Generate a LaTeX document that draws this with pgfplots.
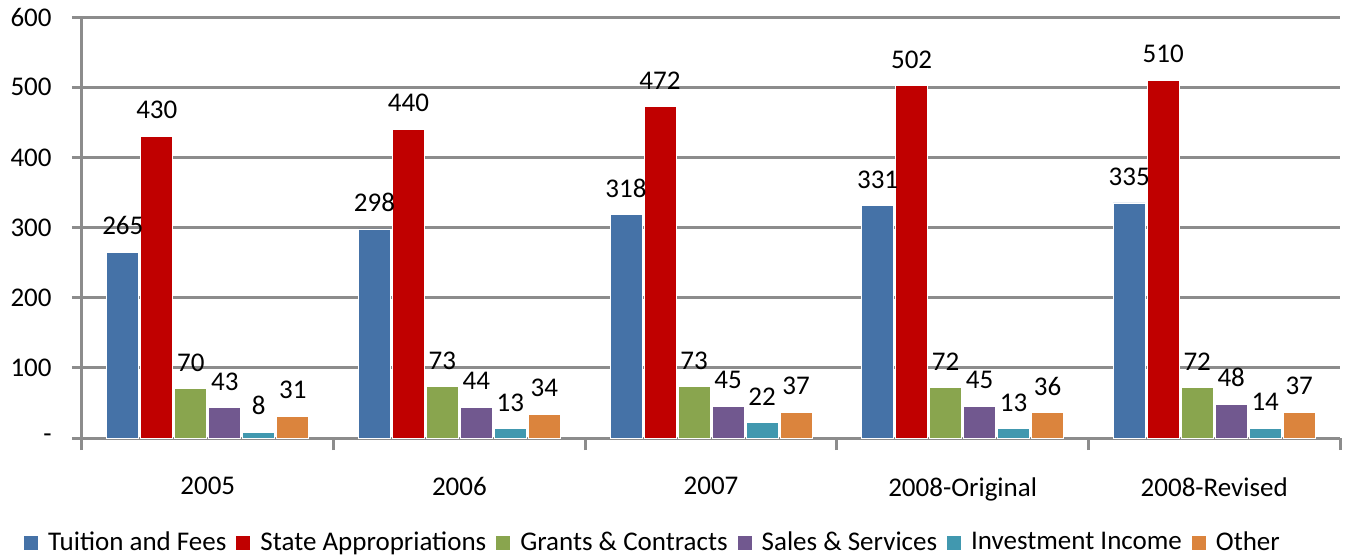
\documentclass[border=0pt]{standalone}
\usepackage{fontspec}
\setmainfont{Carlito}
\usepackage{pgfplots}
\pgfplotsset{compat=1.18}
\definecolor{cTu}{HTML}{4572A7}
\definecolor{cSt}{HTML}{C00000}
\definecolor{cGr}{HTML}{89A54E}
\definecolor{cSa}{HTML}{71588F}
\definecolor{cIn}{HTML}{4198AF}
\definecolor{cOt}{HTML}{DB843D}
\definecolor{gridc}{HTML}{8C8C8C}
\begin{document}
\fontsize{13.5}{16}\selectfont
\begin{tikzpicture}
\useasboundingbox (-41pt,-60.5pt) rectangle (635pt,219pt);
\begin{axis}[
  scale only axis,
  width=629pt, height=210.5pt,
  anchor=south west,
  ybar=1pt, bar width=16pt,
  xmin=-0.5, xmax=4.5, ymin=0, ymax=600,
  axis x line=bottom, axis y line=left,
  axis line style={-, draw=gridc, line width=1.5pt},
  ytick={0,100,...,600},
  yticklabels={{-\hspace{7pt}},100,200,300,400,500,600},
  xtick={0,1,2,3,4},
  xticklabels={2005,2006,2007,2008-Original,2008-Revised},
  minor xtick={-0.5,0.5,1.5,2.5,3.5,4.5},
  tick align=outside,
  major tick length=5pt,
  minor tick length=6pt,
  x tick style={draw=none},
  minor x tick style={draw=gridc, line width=1.5pt},
  y tick style={draw=gridc, line width=1.5pt},
  ymajorgrids,
  grid style={draw=gridc, line width=1.5pt},
  /pgf/number format/assume math mode=true,
  tick label style={font=\fontsize{13.5}{16}\selectfont},
  xticklabel style={yshift=-10pt},
  yticklabel style={xshift=-5.5pt},
  nodes near coords,
  nodes near coords style={font=\fontsize{13.5}{16}\selectfont, yshift=4pt, text=black},
  every axis plot/.append style={draw=white, line width=0.4pt},
  legend style={at={(0.4547,-0.249)}, anchor=center, draw=none, fill=none,
    legend columns=6, font=\fontsize{13.5}{16}\selectfont,
    /tikz/every odd column/.append style={column sep=3pt},
    /tikz/every even column/.append style={column sep=3pt}},
  legend image code/.code={\fill[#1, draw=none] (0pt,-3.5pt) rectangle (7pt,3.5pt);},
]
\addplot[fill=cTu] coordinates {(0,265) (1,298) (2,318) (3,331) (4,335)};
\addplot[fill=cSt] coordinates {(0,430) (1,440) (2,472) (3,502) (4,510)};
\addplot[fill=cGr] coordinates {(0,70) (1,73) (2,73) (3,72) (4,72)};
\addplot[fill=cSa] coordinates {(0,43) (1,44) (2,45) (3,45) (4,48)};
\addplot[fill=cIn] coordinates {(0,8) (1,13) (2,22) (3,13) (4,14)};
\addplot[fill=cOt] coordinates {(0,31) (1,34) (2,37) (3,36) (4,37)};
\legend{Tuition and Fees, State Appropriations, Grants \& Contracts, Sales \& Services, Investment Income, Other}
\end{axis}
\end{tikzpicture}
\end{document}
